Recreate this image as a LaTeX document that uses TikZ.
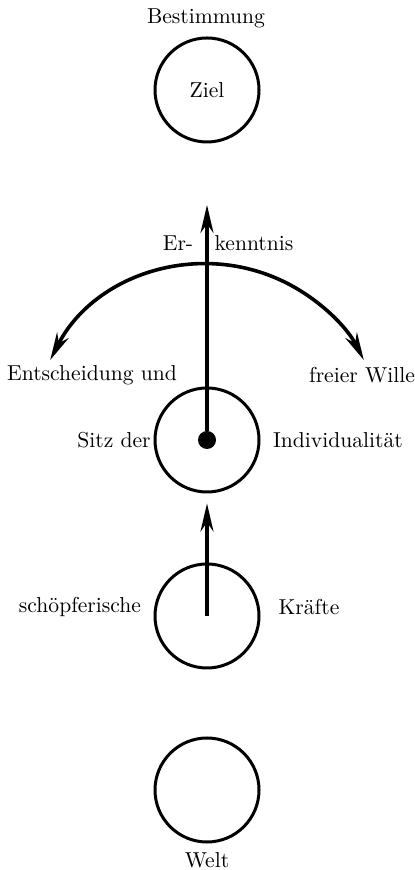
\documentclass[tikz,border=0pt]{standalone}
\usepackage{tikz}
\usetikzlibrary{calc,positioning,arrows.meta}

\begin{document}
\begin{tikzpicture}[x=0.5pt, y=0.5pt,
  every node/.style={font=\fontsize{10.8}{13}\selectfont},
  ring/.style={draw, circle, line width=1.5pt, minimum size=52pt, inner sep=0pt},
  kern/.style={fill, circle, minimum size=9pt, inner sep=0pt},
  pfeil/.style={-{Stealth[length=14pt,width=6.5pt]}, line width=1.6pt}]
  \useasboundingbox (0,0) rectangle (415,870);

  % Kreise
  \node[ring] (ziel) at (207,780) {Ziel};
  \node[ring] (sitz) at (207,430) {};
  \node[ring] (kraefte) at (207,254) {};
  \node[ring] (welt) at (207,80) {};
  \node[kern] (kern) at (sitz.center) {};

  % Beschriftungen
  \node (bestimmung) at (206,852) {Bestimmung};
  \node (er) at (178,627) {Er-};
  \node (kenntnis) at (254,627) {kenntnis};
  \node (entscheidung) at (92,495) {Entscheidung und};
  \node (wille) at (362,495) {freier Wille};
  \node (sitzder) at (114,430) {Sitz der};
  \node (individualitaet) at (338,430) {Individualität};
  \node (schoepf) at (80,263) {schöpferische};
  \node (kraeftetxt) at (309,263) {Kräfte};
  \node (weltxt) at (207,10) {Welt};

  % Pfeile
  \coordinate (oben) at (207,665);
  \coordinate (links) at ($(kern)+(153:176)$);
  \draw[pfeil] (kern) -- (oben);
  \draw[pfeil, shorten >=5pt] (kraefte.center) -- (sitz.south);
  \draw[{Stealth[length=14pt,width=6.5pt]}-{Stealth[length=14pt,width=6.5pt]}, line width=1.8pt]
    (links) arc[start angle=153, end angle=27, radius=176];
\end{tikzpicture}
\end{document}
